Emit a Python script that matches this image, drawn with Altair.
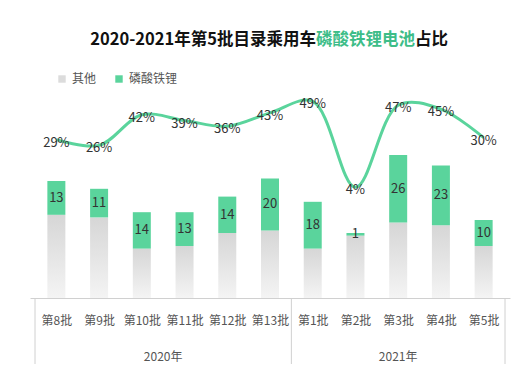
import json
import altair as alt
import pandas as pd

batches = ["第8批", "第9批", "第10批", "第11批", "第12批", "第13批",
           "第1批", "第2批", "第3批", "第4批", "第5批"]
years = ["2020年"] * 6 + ["2021年"] * 5
lfp = [13, 11, 14, 13, 14, 20, 18, 1, 26, 23, 10]
other = [32, 31, 19, 20, 25, 26, 19, 24, 29, 28, 20]
share = [29, 26, 42, 39, 36, 43, 49, 4, 47, 45, 30]

year_names = ["2020年", "2021年"]
year_pos = [2.5, 8.0]
dividers = [-0.5, 5.5, 10.5]

GREEN = "#5ad49c"
W, H = 480, 208
FONT = "Noto Sans CJK SC"

df = pd.DataFrame({
    "idx": list(range(len(batches))),
    "batch": batches,
    "year": years,
    "lfp": lfp,
    "other": other,
    "share": share,
})
df["total"] = df["lfp"] + df["other"]
df["series"] = "磷酸铁锂"
df["share_label"] = [f"{v}%" for v in share]

label_expr = json.dumps(batches, ensure_ascii=False) + "[datum.value]"

xs = alt.Scale(domain=[-0.5, 10.5], nice=False, zero=False)
x_enc = alt.X("idx:Q", scale=xs, axis=alt.Axis(
    values=list(range(len(batches))), labelExpr=label_expr, title=None,
    grid=False, ticks=False, tickSize=0, labelPadding=17, labelFontSize=12,
    labelColor="#555555", labelFont=FONT, domainColor="#d0d0d0", domainWidth=1))
ybar = alt.Scale(domain=[0, 80], nice=False)
yline = alt.Scale(domain=[-54, 55], nice=False, zero=False)

base = alt.Chart(df)

gray = base.mark_bar(size=18, color=alt.Gradient(
    gradient="linear", x1=0, x2=0, y1=0, y2=1,
    stops=[alt.GradientStop(color="#d6d6d6", offset=0),
           alt.GradientStop(color="#f4f4f4", offset=1)])).encode(
    x=x_enc,
    y=alt.Y("other:Q", scale=ybar, axis=None),
)

green = base.mark_bar(size=18).encode(
    x=alt.X("idx:Q", scale=xs),
    y=alt.Y("other:Q", scale=ybar, axis=None),
    y2="total:Q",
    color=alt.Color("series:N", scale=alt.Scale(
        domain=["其他", "磷酸铁锂"], range=["#dcdcdc", GREEN]),
        legend=alt.Legend(title=None, orient="none", legendX=26, legendY=-17,
                          direction="horizontal", symbolType="square",
                          symbolSize=55, symbolStrokeWidth=0,
                          labelFontSize=12, labelColor="#555555", labelFont=FONT,
                          columnPadding=16, symbolOffset=0)),
)

bar_text = base.transform_calculate(mid="(datum.other + datum.total) / 2").mark_text(
    fontSize=13, color="#333333", font=FONT, baseline="middle").encode(
    x=alt.X("idx:Q", scale=xs),
    y=alt.Y("mid:Q", scale=ybar, axis=None),
    text="lfp:Q",
)

line = base.mark_line(color=GREEN, strokeWidth=3, interpolate="catmull-rom").encode(
    x=alt.X("idx:Q", scale=xs),
    y=alt.Y("share:Q", scale=yline, axis=None),
)
line_text = base.mark_text(fontSize=13, color="#333333", font=FONT,
                           baseline="middle", dy=3).encode(
    x=alt.X("idx:Q", scale=xs),
    y=alt.Y("share:Q", scale=yline, axis=None),
    text="share_label:N",
)

ydf = pd.DataFrame({"pos": year_pos, "name": year_names})
year_text = alt.Chart(ydf).mark_text(fontSize=12, color="#555555", font=FONT,
                                     baseline="middle").encode(
    x=alt.X("pos:Q", scale=xs),
    y=alt.value(H + 59),
    text="name:N",
)
ddf = pd.DataFrame({"pos": dividers})
div_rules = alt.Chart(ddf).mark_rule(color="#d0d0d0", strokeWidth=1).encode(
    x=alt.X("pos:Q", scale=xs),
    y=alt.value(H),
    y2=alt.value(H + 70),
)

title_black = "2020-2021年第5批目录乘用车"
title_green = "磷酸铁锂电池"
title_end = "占比"
TS = 16.5
tdf = pd.DataFrame({"t": [title_black, title_green, title_end]})
gcenter = 365.5 - 30
t1 = alt.Chart(tdf.iloc[[0]]).mark_text(fontSize=TS, fontWeight="bold", font=FONT,
                                        align="right", baseline="middle", color="#111111").encode(
    x=alt.value(gcenter - 3 * TS), y=alt.value(-50), text="t:N")
t2 = alt.Chart(tdf.iloc[[1]]).mark_text(fontSize=TS, fontWeight="bold", font=FONT,
                                        align="center", baseline="middle", color="#3dbd88").encode(
    x=alt.value(gcenter), y=alt.value(-50), text="t:N")
t3 = alt.Chart(tdf.iloc[[2]]).mark_text(fontSize=TS, fontWeight="bold", font=FONT,
                                        align="left", baseline="middle", color="#111111").encode(
    x=alt.value(gcenter + 3 * TS), y=alt.value(-50), text="t:N")

chart = alt.layer(
    div_rules, gray, green, bar_text, line, line_text, year_text, t1, t2, t3
).resolve_scale(y="independent").properties(
    width=W, height=H,
    autosize=alt.AutoSizeParams(type="none"),
    padding={"left": 22, "top": 82, "right": 13, "bottom": 66},
    background="white",
).configure_view(stroke=None).configure_legend(labelFont=FONT)

chart.save("out.html", embed_options={"renderer": "svg", "actions": False})
